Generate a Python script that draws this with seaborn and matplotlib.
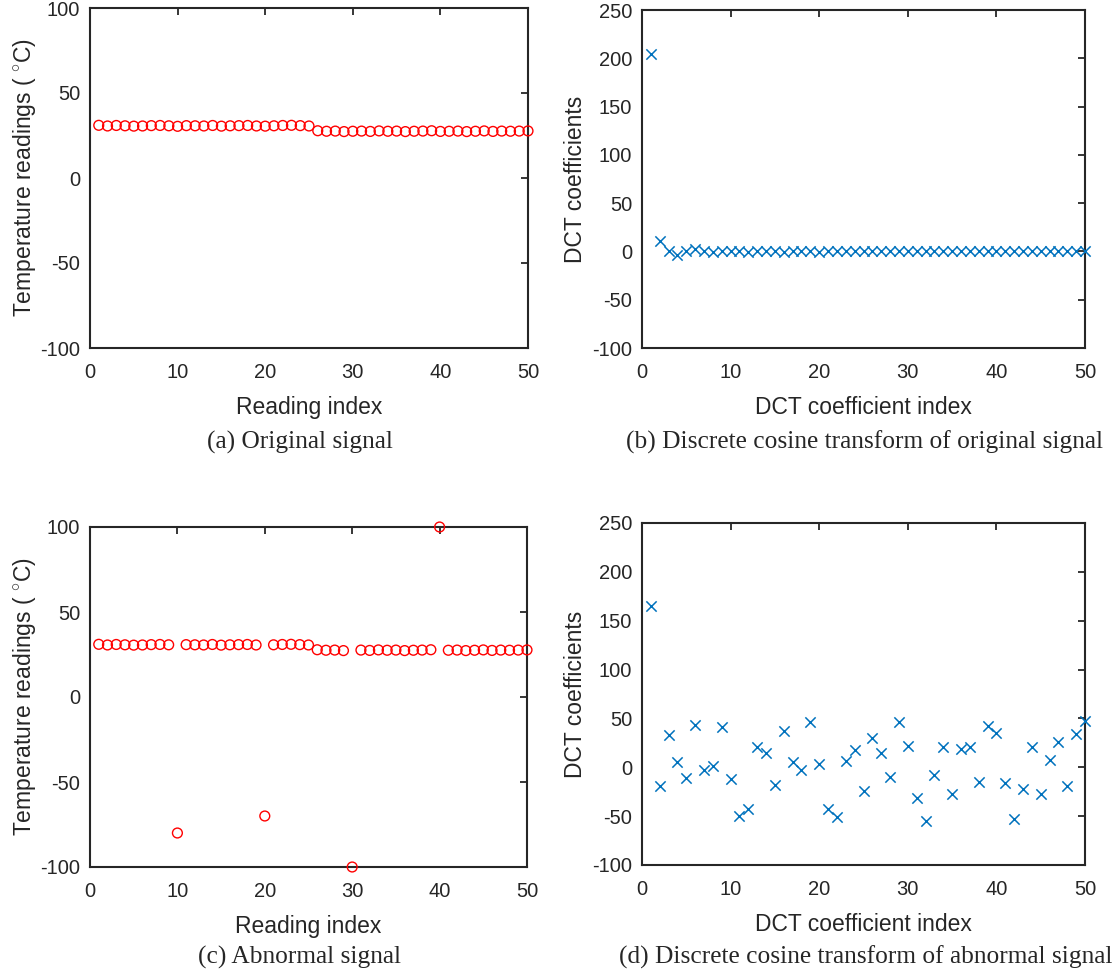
import matplotlib
matplotlib.use("Agg")
import matplotlib.pyplot as plt
import seaborn as sns

# readings (index 1..50)
idx = list(range(1, 51))

orig_signal = [31.0, 30.6, 30.9, 30.7, 30.5, 30.6, 30.8, 30.9, 30.7, 30.4,
               30.8, 30.7, 30.6, 30.9, 30.5, 30.7, 30.8, 30.9, 30.6, 30.5,
               30.7, 30.9, 31.0, 30.8, 30.6, 27.8, 27.5, 27.6, 27.3, 27.5,
               27.6, 27.4, 27.7, 27.5, 27.6, 27.3, 27.5, 27.6, 27.8, 27.4,
               27.5, 27.6, 27.3, 27.5, 27.7, 27.4, 27.6, 27.5, 27.6, 27.7]

abnormal_signal = [31.0, 30.6, 30.9, 30.7, 30.5, 30.6, 30.8, 30.9, 30.7, -80.0,
                   30.8, 30.7, 30.6, 30.9, 30.5, 30.7, 30.8, 30.9, 30.6, -70.0,
                   30.7, 30.9, 31.0, 30.8, 30.6, 27.8, 27.5, 27.6, 27.3, -100.0,
                   27.6, 27.4, 27.7, 27.5, 27.6, 27.3, 27.5, 27.6, 27.8, 100.0,
                   27.5, 27.6, 27.3, 27.5, 27.7, 27.4, 27.6, 27.5, 27.6, 27.7]

dct_orig = [204.0, 10.3, 0.0, -3.8, 0.8, 2.6, 0.0, -0.7, 0.5, 0.2,
            0.3, -0.2, 0.2, 0.1, 0.2, -0.1, 0.1, 0.1, 0.1, -0.1,
            0.1, 0.0, 0.1, 0.0, 0.1, 0.0, 0.0, 0.0, 0.0, 0.0,
            0.0, 0.0, 0.0, 0.0, 0.0, 0.0, 0.0, 0.0, 0.0, 0.0,
            0.0, 0.0, 0.0, 0.0, 0.0, 0.0, 0.0, 0.0, 0.0, 0.0]

dct_abnormal = [165.0, -19.5, 32.7, 5.4, -11.2, 43.5, -3.1, 1.0, 41.0, -12.2,
                -50.3, -42.9, 20.7, 15.0, -18.4, 37.0, 5.8, -3.1, 45.9, 3.4,
                -42.9, -50.7, 6.8, 17.7, -23.8, 30.3, 14.3, -10.2, 46.6, 21.4,
                -31.3, -54.8, -7.8, 20.7, -27.2, 18.7, 20.7, -14.6, 42.5, 35.0,
                -16.3, -53.0, -21.8, 20.7, -27.6, 7.1, 25.5, -19.0, 33.7, 47.0]

captions = ["(a) Original signal",
            "(b) Discrete cosine transform of original signal",
            "(c) Abnormal signal",
            "(d) Discrete cosine transform of abnormal signal"]

sns.set_style("white")
plt.rcParams['font.family'] = ['Liberation Sans', 'DejaVu Sans']
plt.rcParams['mathtext.fontset'] = 'custom'
plt.rcParams['mathtext.rm'] = 'Liberation Sans'
plt.rcParams['axes.unicode_minus'] = False

W, H = 1116, 976
fig = plt.figure(figsize=(W / 100, H / 100), dpi=100)


def box(l, t, r, b):
    return [l / W, 1 - b / H, (r - l) / W, (b - t) / H]


ax_a = fig.add_axes(box(90, 8, 528, 348))
ax_b = fig.add_axes(box(642, 10, 1085, 348))
ax_c = fig.add_axes(box(90, 527, 527, 867))
ax_d = fig.add_axes(box(642, 523, 1085, 865))

red = "#FF0000"
blue = "#0072BD"
dark = "#262626"

for ax, y in [(ax_a, orig_signal), (ax_c, abnormal_signal)]:
    sns.scatterplot(x=idx, y=y, ax=ax, marker="o", s=50, facecolor="none",
                    edgecolor=red, linewidth=1.0, clip_on=False, zorder=3)
    ax.set_ylim(-100, 100)
    ax.set_yticks([-100, -50, 0, 50, 100])
    ax.set_xlabel("Reading index", fontsize=16.5, color=dark, labelpad=10)
    ax.set_ylabel("Temperature readings ( $^{\\circ}$C)", fontsize=16.5,
                  color=dark, labelpad=1.5)

for ax, y in [(ax_b, dct_orig), (ax_d, dct_abnormal)]:
    sns.scatterplot(x=idx, y=y, ax=ax, marker="x", s=55, color=blue,
                    linewidth=1.1, clip_on=False, zorder=3)
    ax.set_ylim(-100, 250)
    ax.set_yticks(list(range(-100, 251, 50)))
    ax.set_xlabel("DCT coefficient index", fontsize=16.5, color=dark, labelpad=10)
    ax.set_ylabel("DCT coefficients", fontsize=16.5, color=dark, labelpad=4)

for ax in [ax_a, ax_b, ax_c, ax_d]:
    ax.set_xlim(0, 50)
    ax.set_xticks([0, 10, 20, 30, 40, 50])
    ax.tick_params(direction="in", length=5, width=1.3, top=True, right=True,
                   labelsize=14.5, colors=dark)
    ax.tick_params(axis="x", pad=11)
    ax.tick_params(axis="y", pad=7)
    for s in ax.spines.values():
        s.set_visible(True)
        s.set_linewidth(1.5)
        s.set_color(dark)

fig.text(300 / W, 1 - 442 / H, captions[0], ha="center", va="center",
         fontsize=18.3, family="Liberation Serif")
fig.text(864 / W, 1 - 442 / H, captions[1], ha="center", va="center",
         fontsize=18.3, family="Liberation Serif")
fig.text(300 / W, 1 - 957 / H, captions[2], ha="center", va="center",
         fontsize=18.3, family="Liberation Serif")
fig.text(866 / W, 1 - 957 / H, captions[3], ha="center", va="center",
         fontsize=18.3, family="Liberation Serif")

fig.savefig("out.png", dpi=100)
